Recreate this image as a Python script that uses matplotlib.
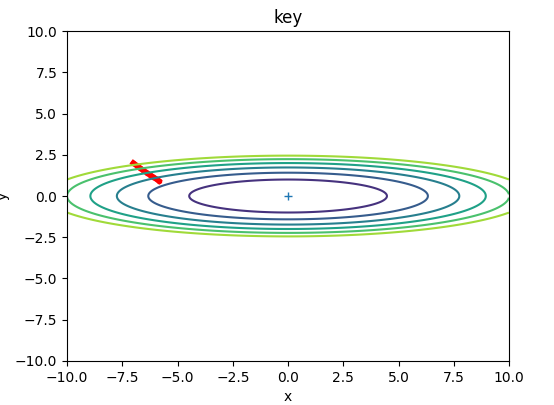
import numpy as np
import matplotlib
matplotlib.use("Agg")
import matplotlib.pyplot as plt

path_x = [-7.0, -6.85, -6.7, -6.55, -6.4, -6.25, -6.1, -5.95, -5.85]
path_y = [2.0, 1.85, 1.7, 1.55, 1.42, 1.28, 1.15, 1.02, 0.92]

fig = plt.figure(figsize=(5.54, 4.05), dpi=100)
ax = fig.add_axes([0.121, 0.109, 0.798, 0.814])
ax.plot(path_x, path_y, 'o-', color='red', markersize=3, linewidth=4)
x = np.arange(-10, 10, 0.01)
y = np.arange(-5, 5, 0.01)
X, Y = np.meshgrid(x, y)
Z = X**2 / 20.0 + Y**2
Z = np.ma.masked_where(Z > 7, Z)
ax.contour(X, Y, Z)
ax.plot(0, 0, '+')
ax.set_xlim(-10, 10)
ax.set_ylim(-10, 10)
ax.set_title("key")
ax.set_xlabel("x")
ax.set_ylabel("y")
fig.savefig("out.png")
